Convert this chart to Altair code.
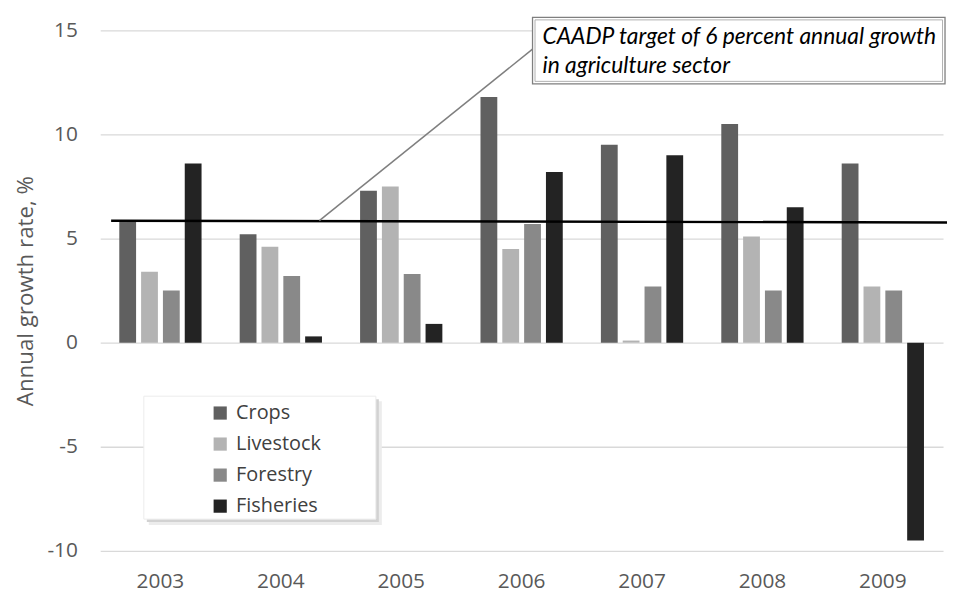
import altair as alt
import pandas as pd

years = ["2003", "2004", "2005", "2006", "2007", "2008", "2009"]
crops = [5.8, 5.2, 7.3, 11.8, 9.5, 10.5, 8.6]
livestock = [3.4, 4.6, 7.5, 4.5, 0.1, 5.1, 2.7]
forestry = [2.5, 3.2, 3.3, 5.7, 2.7, 2.5, 2.5]
fisheries = [8.6, 0.3, 0.9, 8.2, 9.0, 6.5, -9.5]
sectors = ["Crops", "Livestock", "Forestry", "Fisheries"]
colors = ["#606060", "#b3b3b3", "#898989", "#232323"]
y_ticks = [-10, -5, 0, 5, 10, 15]
target_left = 5.85
target_right = 5.77
annotation_line1 = "CAADP target of 6 percent annual growth"
annotation_line2 = "in agriculture sector"
y_title = "Annual growth rate, %"

series = {"Crops": crops, "Livestock": livestock, "Forestry": forestry, "Fisheries": fisheries}
rows = []
for s in sectors:
    for yr, v in zip(years, series[s]):
        rows.append({"year": yr, "sector": s, "value": v})
df = pd.DataFrame(rows)

W, H = 850, 525
FONT = "Open Sans"
GREY = "#595959"
one = pd.DataFrame({"a": [0]})

bars = alt.Chart(df).mark_bar().encode(
    x=alt.X("year:N", sort=years,
            scale=alt.Scale(paddingInner=0.275, paddingOuter=0.1375),
            axis=alt.Axis(title=None, labelAngle=0, domain=False, ticks=False,
                          labelPadding=20, labelFontSize=21, labelFont=FONT,
                          labelColor=GREY)),
    xOffset=alt.XOffset("sector:N", sort=sectors,
                        scale=alt.Scale(paddingInner=0.23, paddingOuter=0.115)),
    y=alt.Y("value:Q", scale=alt.Scale(domain=[-10, 15], nice=False, zero=False),
            axis=alt.Axis(values=y_ticks, title=y_title, grid=True, gridColor="#d9d9d9",
                          gridWidth=1.3, domain=False, ticks=False, labelPadding=23,
                          labelExpr="toString(datum.value)",
                          labelFontSize=21, labelFont=FONT, labelColor=GREY,
                          titleFont=FONT, titleFontSize=22.5, titleFontWeight="normal",
                          titleColor=GREY, titlePadding=9.5)),
    color=alt.Color("sector:N", sort=sectors,
                    scale=alt.Scale(domain=sectors, range=colors),
                    legend=alt.Legend(title=None, orient="none", legendX=111, legendY=376,
                                      symbolType="square", symbolSize=177,
                                      symbolStrokeWidth=0, labelFontSize=20,
                                      labelFont=FONT, labelColor="#404040",
                                      rowPadding=11.3, labelOffset=6, padding=0)),
)

# legend background box with shadow
shadow2 = alt.Chart(one).mark_rect(fill="#ececec").encode(
    x=alt.value(49), x2=alt.value(284), y=alt.value(374), y2=alt.value(499))
shadow1 = alt.Chart(one).mark_rect(fill="#d2d2d2").encode(
    x=alt.value(47), x2=alt.value(281), y=alt.value(372), y2=alt.value(496))
legend_box = alt.Chart(one).mark_rect(fill="white", stroke="#ececec", strokeWidth=1).encode(
    x=alt.value(44), x2=alt.value(278), y=alt.value(369), y2=alt.value(493))

# target line
target = alt.Chart(one).mark_rule(color="black", strokeWidth=2.5).encode(
    x=alt.value(11), x2=alt.value(W + 10),
    y=alt.datum(target_left), y2=alt.datum(target_right))

# callout
callout = alt.Chart(one).mark_rule(color="#7f7f7f", strokeWidth=1.5).encode(
    x=alt.value(221), y=alt.value(192), x2=alt.value(436), y2=alt.value(19))
box_outer = alt.Chart(one).mark_rect(fill="white", stroke="#7f7f7f", strokeWidth=1.3).encode(
    x=alt.value(436), x2=alt.value(852), y=alt.value(-13), y2=alt.value(54))
box_inner = alt.Chart(one).mark_rect(fill="white", stroke="#b0b0b0", strokeWidth=1).encode(
    x=alt.value(438.5), x2=alt.value(849.5), y=alt.value(-10.5), y2=alt.value(51.5))
text1 = alt.Chart(one).mark_text(align="left", baseline="alphabetic", font="Lato",
                                 fontStyle="italic", fontSize=23, color="black").encode(
    x=alt.value(446), y=alt.value(13.7), text=alt.value(annotation_line1))
text2 = alt.Chart(one).mark_text(align="left", baseline="alphabetic", font="Lato",
                                 fontStyle="italic", fontSize=23, color="black").encode(
    x=alt.value(446), y=alt.value(43), text=alt.value(annotation_line2))

chart = alt.layer(bars, shadow2, shadow1, legend_box, target, callout,
                  box_outer, box_inner, text1, text2).properties(
    width=W, height=H,
    padding={"left": 93, "top": 20, "right": 4, "bottom": 39},
    autosize=alt.AutoSizeParams(type="none"),
).configure_view(stroke=None)

chart.save("out.html", embed_options={"renderer": "svg", "actions": False})
